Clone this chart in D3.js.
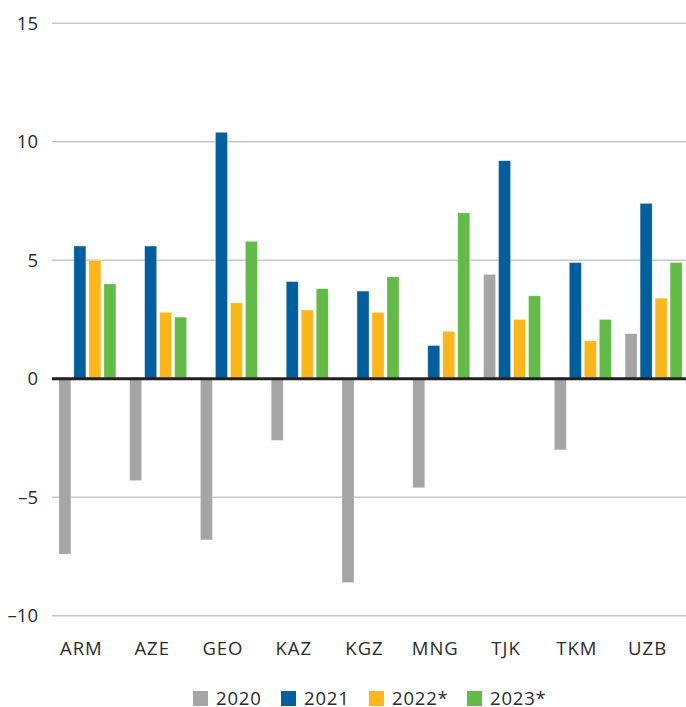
<!DOCTYPE html>
<html>
<head>
<meta charset="utf-8">
<script src="https://cdn.jsdelivr.net/npm/d3@7"></script>
<style>
  body { margin: 0; background: #fff; }
  svg { display: block; font-family: "Open Sans", Lato, sans-serif; }
</style>
</head>
<body>
<svg width="686" height="707"></svg>
<script>
// categories and series
var countries = ['ARM', 'AZE', 'GEO', 'KAZ', 'KGZ', 'MNG', 'TJK', 'TKM', 'UZB'];
var years = ['2020', '2021', '2022*', '2023*'];
var colors = ['#a5a5a5', '#005f9f', '#fbb619', '#62bb46'];

var v2020 = [-7.4, -4.3, -6.8, -2.6, -8.6, -4.6, 4.4, -3.0, 1.9];
var v2021 = [5.6, 5.6, 10.4, 4.1, 3.7, 1.4, 9.2, 4.9, 7.4];
var v2022 = [5.0, 2.8, 3.2, 2.9, 2.8, 2.0, 2.5, 1.6, 3.4];
var v2023 = [4.0, 2.6, 5.8, 3.8, 4.3, 7.0, 3.5, 2.5, 4.9];

var yTicks = [-10, -5, 0, 5, 10, 15];

var series = [v2020, v2021, v2022, v2023];

var svg = d3.select('svg');

var plotLeft = 52, plotRight = 686;

var x0 = d3.scaleBand().domain(countries).range([52, 689]);
var x1 = d3.scaleBand().domain(years).range([0, 57]).paddingInner(0.2);
var groupOffset = (x0.bandwidth() - 57) / 2;

var y = d3.scaleLinear().domain([-10, 15]).range([615.7, 23.3]);

// gridlines
svg.append('g').selectAll('line')
    .data(yTicks.filter(function(d) { return d !== 0; }))
    .enter().append('line')
    .attr('x1', plotLeft)
    .attr('x2', plotRight)
    .attr('y1', function(d) { return y(d); })
    .attr('y2', function(d) { return y(d); })
    .attr('stroke', '#c8c8c8')
    .attr('stroke-width', 1.5);

// y labels
svg.append('g').selectAll('text')
    .data(yTicks)
    .enter().append('text')
    .attr('x', 38)
    .attr('y', function(d) { return y(d); })
    .attr('dy', '0.36em')
    .attr('text-anchor', 'end')
    .attr('font-size', 18.5)
    .attr('fill', '#2b2b2b')
    .text(function(d) { return d < 0 ? '\u2013' + Math.abs(d) : d; });

// bars
var groups = svg.append('g').selectAll('g')
    .data(countries)
    .enter().append('g')
    .attr('transform', function(d) { return 'translate(' + (x0(d) + groupOffset) + ',0)'; });

groups.selectAll('rect')
    .data(function(c, i) {
        return years.map(function(yr, j) { return {year: yr, value: series[j][i], color: colors[j]}; });
    })
    .enter().append('rect')
    .attr('x', function(d) { return x1(d.year); })
    .attr('width', x1.bandwidth())
    .attr('y', function(d) { return y(Math.max(0, d.value)); })
    .attr('height', function(d) { return Math.abs(y(d.value) - y(0)); })
    .attr('fill', function(d) { return d.color; })
    .attr('stroke', 'rgba(255,255,255,0.5)')
    .attr('stroke-width', 0.6);

// zero line
svg.append('line')
    .attr('x1', plotLeft)
    .attr('x2', plotRight)
    .attr('y1', y(0))
    .attr('y2', y(0))
    .attr('stroke', '#231f20')
    .attr('stroke-width', 3);

// x labels
svg.append('g').selectAll('text')
    .data(countries)
    .enter().append('text')
    .attr('x', function(d) { return x0(d) + x0.bandwidth() / 2 - 6; })
    .attr('y', 655)
    .attr('text-anchor', 'middle')
    .attr('font-size', 18.5)
    .attr('letter-spacing', 1)
    .attr('fill', '#2b2b2b')
    .text(function(d) { return d; });

// legend
var legendX = [193, 281, 369, 467];
var legend = svg.append('g').selectAll('g')
    .data(years)
    .enter().append('g')
    .attr('transform', function(d, i) { return 'translate(' + legendX[i] + ',691)'; });

legend.append('rect')
    .attr('width', 15)
    .attr('height', 15)
    .attr('fill', function(d, i) { return colors[i]; });

legend.append('text')
    .attr('x', 23)
    .attr('y', 13.5)
    .attr('font-size', 18.5)
    .attr('letter-spacing', 0.8)
    .attr('fill', '#2b2b2b')
    .text(function(d) { return d; });
</script>
</body>
</html>
